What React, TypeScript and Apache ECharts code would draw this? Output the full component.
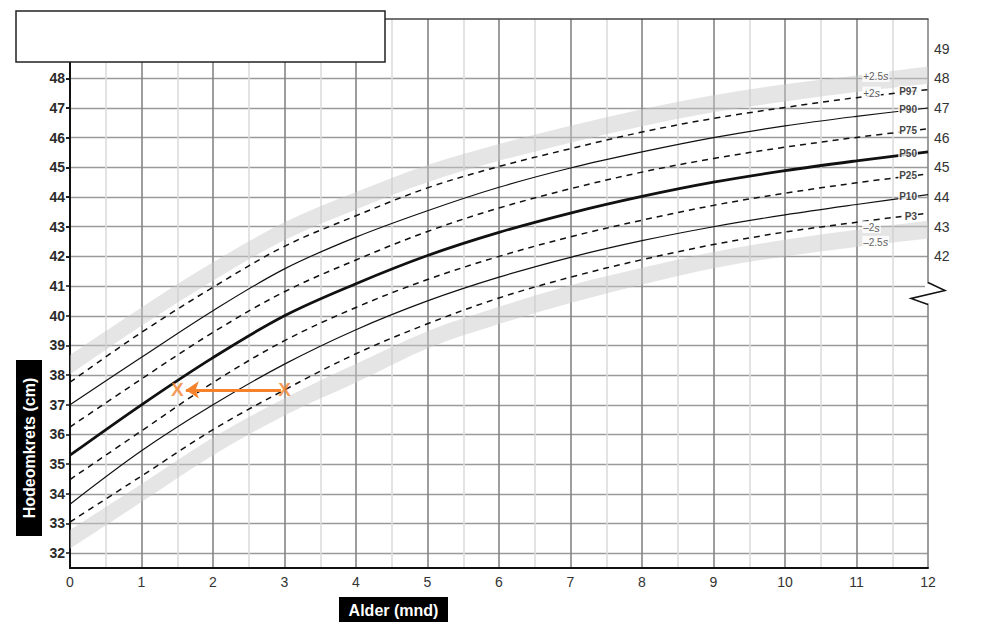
import React, { useEffect, useRef } from "react";
import * as echarts from "echarts";

// ---- data ----
const months = [0, 1, 2, 3, 4, 5, 6, 7, 8, 9, 10, 11, 12];

const p97 = [37.76, 39.44, 40.96, 42.34, 43.37, 44.31, 45.03, 45.63, 46.19, 46.65, 47.02, 47.35, 47.62];
const p90 = [37.0, 38.6, 40.17, 41.58, 42.65, 43.54, 44.33, 44.98, 45.52, 46.0, 46.4, 46.72, 47.0];
const p75 = [36.25, 37.87, 39.44, 40.81, 41.88, 42.84, 43.63, 44.28, 44.84, 45.3, 45.68, 46.01, 46.3];
const p50 = [35.3, 37.0, 38.59, 40.0, 41.08, 42.03, 42.81, 43.46, 44.02, 44.5, 44.89, 45.22, 45.52];
const p25 = [34.48, 36.12, 37.75, 39.16, 40.28, 41.22, 42.0, 42.66, 43.22, 43.72, 44.13, 44.48, 44.78];
const p10 = [33.65, 35.45, 37.0, 38.37, 39.53, 40.5, 41.3, 41.97, 42.53, 43.0, 43.4, 43.75, 44.08];
const p3 = [33.05, 34.6, 36.16, 37.5, 38.72, 39.73, 40.6, 41.3, 41.89, 42.4, 42.82, 43.15, 43.46];

const plus2s = [38.02, 39.66, 41.18, 42.55, 43.58, 44.5, 45.22, 45.83, 46.39, 46.86, 47.22, 47.54, 47.82];
const plus25s = [38.68, 40.28, 41.8, 43.15, 44.17, 45.08, 45.79, 46.4, 46.96, 47.43, 47.8, 48.1, 48.4];
const minus2s = [32.78, 34.33, 35.9, 37.22, 38.38, 39.48, 40.3, 41.03, 41.62, 42.15, 42.56, 42.9, 43.2];
const minus25s = [32.15, 33.72, 35.3, 36.64, 37.75, 38.9, 39.72, 40.43, 41.05, 41.6, 42.0, 42.32, 42.6];

const xTickLabels = [0, 1, 2, 3, 4, 5, 6, 7, 8, 9, 10, 11, 12];
const leftTickLabels = [32, 33, 34, 35, 36, 37, 38, 39, 40, 41, 42, 43, 44, 45, 46, 47, 48];
const rightTickLabels = [42, 43, 44, 45, 46, 47, 48, 49];

const measuredAges = [1.5, 3];
const measuredHead = [37.5, 37.5];
const arrowStartAge = 2.95;
const arrowEndAge = 1.62;

const curveNames = ["P97", "P90", "P75", "P50", "P25", "P10", "P3"];
const curveLabelValues = [47.57, 46.96, 46.25, 45.48, 44.74, 44.03, 43.36];
const sdNames = ["+2.5", "+2", "–2", "–2.5"];
const sdLabelValues = [48.08, 47.52, 42.99, 42.49];

const ORANGE = "#f5812a";
const BAND = "rgba(200,200,200,0.48)";
const FONT = "'Liberation Sans', Arial, sans-serif";
const NARROW = "'Liberation Sans Narrow', 'Liberation Sans', Arial, sans-serif";

const pairs = (ys: number[]) => months.map((m, i) => [m, ys[i]]);

function lineSeries(name: string, ys: number[], width: number, dashed: boolean) {
  return {
    name,
    type: "line",
    data: pairs(ys),
    smooth: 0.35,
    showSymbol: false,
    silent: true,
    z: 3,
    lineStyle: { color: "#111", width, type: dashed ? [6, 5] : "solid" },
  };
}

// smooth (Catmull-Rom) path segments through already-projected points
function smoothSegments(pts: number[][]) {
  let d = "";
  for (let i = 0; i < pts.length - 1; i++) {
    const p0 = pts[i - 1] || pts[i];
    const p1 = pts[i];
    const p2 = pts[i + 1];
    const p3 = pts[i + 2] || p2;
    const c1x = p1[0] + (p2[0] - p0[0]) / 6;
    const c1y = p1[1] + (p2[1] - p0[1]) / 6;
    const c2x = p2[0] - (p3[0] - p1[0]) / 6;
    const c2y = p2[1] - (p3[1] - p1[1]) / 6;
    d += ` C${c1x},${c1y} ${c2x},${c2y} ${p2[0]},${p2[1]}`;
  }
  return d;
}

// shaded band between two curves, positioned through the cartesian scales
function bandSeries(lo: number[], hi: number[]) {
  return {
    type: "custom",
    silent: true,
    z: 1,
    data: [0],
    renderItem: (params: any, api: any) => {
      const upper = months.map((m, i) => api.coord([m, hi[i]]));
      const lower = months.map((m, i) => api.coord([m, lo[i]])).reverse();
      const d =
        `M${upper[0][0]},${upper[0][1]}` +
        smoothSegments(upper) +
        ` L${lower[0][0]},${lower[0][1]}` +
        smoothSegments(lower) +
        " Z";
      return {
        type: "path",
        shape: { pathData: d },
        style: { fill: BAND, stroke: "none" },
      };
    },
  };
}

export default function App() {
  const ref = useRef<HTMLDivElement>(null);

  useEffect(() => {
    if (!ref.current) return;
    const chart = echarts.init(ref.current, undefined, { renderer: "svg" });

    const option: any = {
      animation: false,
      backgroundColor: "#fff",
      textStyle: { fontFamily: FONT },
      grid: { left: 70, right: 62, top: 19, bottom: 70, containLabel: false },
      xAxis: [
        {
          type: "value",
          min: 0,
          max: 12,
          interval: 1,
          axisLine: { show: true, lineStyle: { color: "#111", width: 2 } },
          axisTick: { show: false },
          minorTick: { show: false, splitNumber: 2 },
          axisLabel: {
            customValues: xTickLabels,
            color: "#333",
            fontSize: 14,
            fontFamily: NARROW,
            margin: 7,
          },
          splitLine: { show: true, lineStyle: { color: "#858585", width: 1.6 } },
          minorSplitLine: { show: true, lineStyle: { color: "#dcdcdc", width: 1.6 } },
        },
        {
          type: "value",
          position: "top",
          min: 0,
          max: 12,
          interval: 1,
          axisLine: { show: true, lineStyle: { color: "#444", width: 1.5 } },
          axisTick: { show: false },
          axisLabel: { show: false },
          splitLine: { show: false },
        },
      ],
      yAxis: [
        {
          type: "value",
          min: 31.5,
          max: 50,
          interval: 0.5,
          axisLine: { show: true, lineStyle: { color: "#111", width: 2 } },
          axisTick: {
            show: true,
            customValues: leftTickLabels,
            length: 4,
            lineStyle: { color: "#111", width: 1.5 },
          },
          axisLabel: {
            customValues: leftTickLabels,
            color: "#2a2a2a",
            fontWeight: "bold",
            fontSize: 14,
            margin: 5,
          },
          splitLine: { show: true, lineStyle: { color: "#9a9a9a", width: 1.4 } },
        },
        {
          type: "value",
          position: "right",
          min: 31.5,
          max: 50,
          interval: 0.5,
          axisLine: { show: true, lineStyle: { color: "#111", width: 2 } },
          axisTick: {
            show: true,
            inside: true,
            customValues: rightTickLabels,
            length: 4,
            lineStyle: { color: "#111", width: 1.5 },
          },
          axisLabel: {
            customValues: rightTickLabels,
            color: "#333",
            fontSize: 14,
            margin: 6,
          },
          splitLine: { show: false },
        },
      ],
      series: [
        bandSeries(plus2s, plus25s),
        bandSeries(minus25s, minus2s),
        lineSeries("P97", p97, 1.5, true),
        lineSeries("P90", p90, 1.2, false),
        lineSeries("P75", p75, 1.5, true),
        lineSeries("P50", p50, 2.8, false),
        lineSeries("P25", p25, 1.5, true),
        lineSeries("P10", p10, 1.2, false),
        lineSeries("P3", p3, 1.5, true),
        {
          type: "scatter",
          silent: true,
          symbolSize: 0,
          z: 5,
          data: curveNames.map((n, i) => ({ value: [11.86, curveLabelValues[i]], name: n })),
          label: {
            show: true,
            position: "inside",
            align: "right",
            verticalAlign: "middle",
            formatter: (p: any) => p.name,
            color: "#111",
            fontWeight: "bold",
            fontSize: 10,
            backgroundColor: "#fff",
            padding: [1, 1, 0, 1],
          },
        },
        {
          type: "scatter",
          silent: true,
          symbolSize: 0,
          z: 5,
          data: sdNames.map((n, i) => ({ value: [11.08, sdLabelValues[i]], name: n })),
          label: {
            show: true,
            position: "inside",
            align: "left",
            verticalAlign: "middle",
            formatter: (p: any) => `${p.name}{s|s}`,
            color: "#333",
            fontSize: 10,
            backgroundColor: "#fff",
            padding: [1, 1, 0, 1],
            rich: { s: { fontStyle: "italic", fontSize: 11, color: "#333" } },
          },
        },
        {
          type: "lines",
          coordinateSystem: "cartesian2d",
          silent: true,
          z: 6,
          symbol: ["none", "arrow"],
          symbolSize: [14, 13],
          data: [{ coords: [[arrowStartAge, measuredHead[1]], [arrowEndAge, measuredHead[0]]] }],
          lineStyle: { color: ORANGE, width: 3, opacity: 1, curveness: 0 },
        },
        {
          type: "scatter",
          silent: true,
          symbolSize: 0,
          z: 7,
          data: measuredAges.map((a, i) => [a, measuredHead[i]]),
          label: {
            show: true,
            position: "inside",
            formatter: "X",
            color: ORANGE,
            fontWeight: 900,
            fontSize: 19,
          },
        },
      ],
    };

    chart.setOption(option);

    const bx = chart.convertToPixel({ xAxisIndex: 0 }, 12) as number;
    const by = chart.convertToPixel({ yAxisIndex: 1 }, 40.75) as number;

    chart.setOption({
      graphic: [
        {
          type: "rect",
          z: 100,
          shape: { x: 16, y: 11, width: 369, height: 51 },
          style: { fill: "#fff", stroke: "#222", lineWidth: 1.5 },
        },
        {
          type: "rect",
          z: 100,
          shape: { x: 16, y: 360, width: 26, height: 176 },
          style: { fill: "#000" },
        },
        {
          type: "text",
          z: 101,
          x: 29,
          y: 448,
          rotation: Math.PI / 2,
          style: {
            text: "Hodeomkrets (cm)",
            fill: "#fff",
            font: `bold 16px ${FONT}`,
            align: "center",
            verticalAlign: "middle",
          },
        },
        {
          type: "rect",
          z: 100,
          shape: { x: 339, y: 597, width: 109, height: 25 },
          style: { fill: "#000" },
        },
        {
          type: "text",
          z: 101,
          x: 393.5,
          y: 610,
          style: {
            text: "Alder (mnd)",
            fill: "#fff",
            font: `bold 16px ${FONT}`,
            align: "center",
            verticalAlign: "middle",
          },
        },
        {
          type: "rect",
          z: 100,
          shape: { x: bx - 3, y: by - 10, width: 6, height: 20 },
          style: { fill: "#fff" },
        },
        {
          type: "polyline",
          z: 101,
          shape: {
            points: [
              [bx, by - 11],
              [bx + 17, by - 3],
              [bx - 17, by + 5],
              [bx, by + 11],
            ],
          },
          style: { stroke: "#111", lineWidth: 1.5, fill: "none" },
        },
      ],
    });

    return () => chart.dispose();
  }, []);

  return (
    <div
      ref={ref}
      style={{ position: "absolute", left: 0, top: 0, width: 990, height: 638 }}
    />
  );
}
